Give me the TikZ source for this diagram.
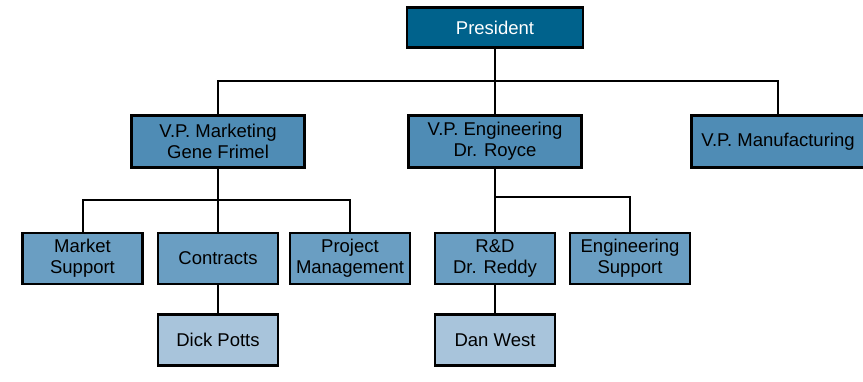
\documentclass[tikz,border=0pt]{standalone}
\usepackage{fontspec}
\setmainfont{Liberation Sans}
\definecolor{presblue}{HTML}{00628C}
\definecolor{vpblue}{HTML}{4F8CB5}
\definecolor{deptblue}{HTML}{6A9EC2}
\definecolor{staffblue}{HTML}{A8C4DB}

\begin{document}
\begin{tikzpicture}[x=1pt,y=-1pt,
  box/.style={draw=black,line width=2.6pt,inner sep=0pt,align=center,
    font=\fontsize{18.5}{21}\selectfont},
  presbox/.style={box,fill=presblue,text=white,minimum width=176pt,minimum height=40pt},
  vpbox/.style={box,fill=vpblue,minimum width=173pt,minimum height=52pt},
  deptbox/.style={box,fill=deptblue,minimum width=120pt,minimum height=51pt},
  staffbox/.style={box,fill=staffblue,minimum width=120pt,minimum height=51pt},
  link/.style={line width=2pt}]
\useasboundingbox (0,0) rectangle (863,382);
% top
\node[presbox] (pres) at (495,27.5) {President};
% vice presidents
\node[vpbox] (vpm) at (218,141.5) {V.P. Marketing\\Gene Frimel};
\node[vpbox] (vpe) at (495,141.5) {V.P. Engineering\\Dr. Royce};
\node[vpbox] (vpf) at (778,141.5) {V.P. Manufacturing};
% departments
\node[deptbox] (ms) at (82.5,258.5) {Market\\Support};
\node[deptbox] (con) at (218,258.5) {Contracts};
\node[deptbox] (pm) at (350,258.5) {Project\\Management};
\node[deptbox] (rd) at (495,258.5) {R\&D\\Dr. Reddy};
\node[deptbox] (es) at (630,258.5) {Engineering\\Support};
% staff
\node[staffbox] (dp) at (218,340) {Dick Potts};
\node[staffbox] (dw) at (495,340) {Dan West};
% connectors
\coordinate (busvp) at (495,81);
\coordinate (busmkt) at (218,200);
\coordinate (buseng) at (495,197);
\draw[link] (pres) -- (vpe);
\draw[link] (vpm.north) |- (busvp) -| (vpf.north);
\draw[link] (vpm) -- (con);
\draw[link] (ms.north) |- (busmkt) -| (pm.north);
\draw[link] (con) -- (dp);
\draw[link] (vpe) -- (rd);
\draw[link] (buseng) -| (es.north);
\draw[link] (rd) -- (dw);
\end{tikzpicture}
\end{document}
